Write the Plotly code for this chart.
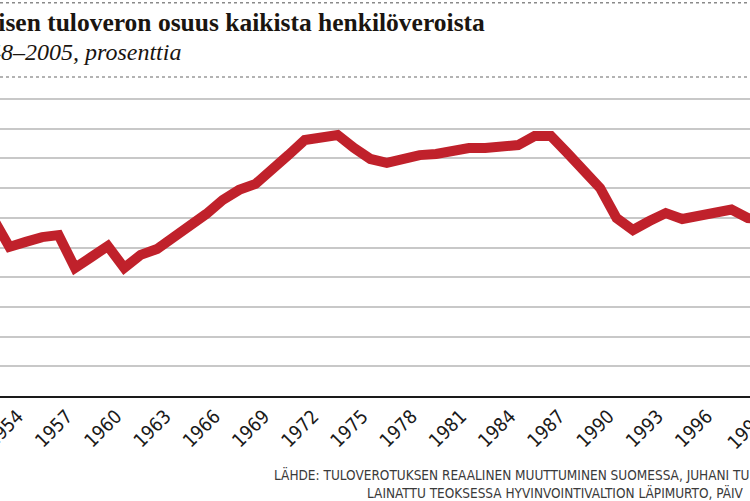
#!/usr/bin/env python3
import plotly.graph_objs as go

# kunnallisen tuloveron osuus kaikista henkiloveroista, prosenttia
years = [1952, 1953, 1954, 1955, 1956, 1957, 1958, 1959, 1960, 1961,
         1962, 1963, 1964, 1965, 1966, 1967, 1968, 1969, 1970, 1971,
         1972, 1973, 1974, 1975, 1976, 1977, 1978, 1979, 1980, 1981,
         1982, 1983, 1984, 1985, 1986, 1987, 1988, 1989, 1990, 1991,
         1992, 1993, 1994, 1995, 1996, 1997, 1998, 1999]
share = [59.9, 50.2, 51.9, 53.5, 54.2, 43.1, 46.8, 50.5, 43.1, 47.5,
         49.5, 53.2, 56.9, 61.3, 66.0, 69.4, 71.4, 75.8, 81.1, 86.2,
         87.2, 87.9, 83.5, 79.8, 78.5, 80.1, 81.1, 81.5, 82.7, 83.5,
         83.5, 83.8, 84.5, 87.5, 87.5, 81.8, 76.1, 70.0, 59.9, 55.9,
         58.9, 61.6, 59.6, 60.7, 62.2, 62.8, 59.9, 59.6]

tick_years = [1951, 1954, 1957, 1960, 1963, 1966, 1969, 1972, 1975, 1978,
              1981, 1984, 1987, 1990, 1993, 1996]
last_tick = "1999"   # falls just past the right edge of the axis range
grid_vals = [0, 10, 20, 30, 40, 50, 60, 70, 80, 90, 100]

title_text = "Kunnallisen tuloveron osuus kaikista henkilöveroista"
subtitle_text = "1948–2005, prosenttia"
source_1 = "LÄHDE: TULOVEROTUKSEN REAALINEN MUUTTUMINEN SUOMESSA, JUHANI TU"
source_2 = "LAINATTU TEOKSESSA HYVINVOINTIVALTION LÄPIMURTO, PÄIV"

sans = "Liberation Sans Narrow, DejaVu Sans Condensed, Roboto, sans-serif"
serif = "Liberation Serif, DejaVu Serif, serif"

trace = go.Scatter(
    x=years,
    y=share,
    mode='lines',
    line={'color': '#c0212b', 'width': 10},
    hoverinfo='skip',
    showlegend=False)

layout = go.Layout(
    width=750, height=501,
    margin={'l': 0, 'r': 0, 't': 90, 'b': 105, 'autoexpand': False},
    paper_bgcolor='white', plot_bgcolor='white',
    xaxis={'range': [1952.43, 1998.13],
           'tickvals': tick_years,
           'ticktext': [str(y) for y in tick_years],
           'tickangle': -45,
           'ticks': '',
           'ticklabeloverflow': 'allow',
           'ticklabelshift': -8,
           'tickfont': {'family': sans, 'size': 19, 'color': '#1a1a1a'},
           'showgrid': False, 'zeroline': False, 'automargin': False,
           'showline': True, 'linecolor': '#1a1a1a', 'linewidth': 1.5},
    yaxis={'range': [0, 103.03],
           'tickvals': grid_vals,
           'showticklabels': False, 'automargin': False,
           'showgrid': True, 'gridcolor': '#c8c8c8', 'gridwidth': 1.5,
           'zeroline': False},
    shapes=[
        {'type': 'line', 'xref': 'paper', 'yref': 'paper',
         'x0': 0, 'x1': 1, 'y0': 1.285, 'y1': 1.285,
         'line': {'color': '#8a8a8a', 'width': 1.5, 'dash': 'dot'}},
        {'type': 'line', 'xref': 'paper', 'yref': 'paper',
         'x0': 0, 'x1': 1, 'y0': 1.0425, 'y1': 1.0425,
         'line': {'color': '#9a9a9a', 'width': 1.5, 'dash': 'dot'}},
    ],
    annotations=[
        {'text': '<b>' + title_text + '</b>', 'xref': 'paper', 'yref': 'paper',
         'x': 487 / 750, 'y': 1.222, 'xanchor': 'right', 'yanchor': 'middle',
         'showarrow': False,
         'font': {'family': serif, 'size': 25.5, 'color': '#1a1510'}},
        {'text': '<i>' + subtitle_text + '</i>', 'xref': 'paper', 'yref': 'paper',
         'x': 183 / 750, 'y': 1.124, 'xanchor': 'right', 'yanchor': 'middle',
         'showarrow': False,
         'font': {'family': serif, 'size': 24, 'color': '#1a1510'}},
        {'text': source_1, 'xref': 'paper', 'yref': 'paper',
         'x': 272 / 750, 'y': -0.255, 'xanchor': 'left', 'yanchor': 'middle',
         'showarrow': False,
         'font': {'family': sans, 'size': 13.5, 'color': '#3a3a3a'}},
        {'text': source_2, 'xref': 'paper', 'yref': 'paper',
         'x': 365 / 750, 'y': -0.314, 'xanchor': 'left', 'yanchor': 'middle',
         'showarrow': False,
         'font': {'family': sans, 'size': 13.5, 'color': '#3a3a3a'}},
        # partly visible tick label at the right edge
        {'text': last_tick, 'xref': 'paper', 'yref': 'paper',
         'x': 746 / 750, 'y': -0.111, 'xanchor': 'center', 'yanchor': 'middle',
         'textangle': -45, 'showarrow': False,
         'font': {'family': sans, 'size': 19, 'color': '#1a1a1a'}},
    ])

fig = go.Figure(data=[trace], layout=layout)
# page has a default 8px body margin, drop it so the chart fills the window
fig.write_html("out.html", config={'displayModeBar': False},
               post_script="document.body.style.margin = '0';")
